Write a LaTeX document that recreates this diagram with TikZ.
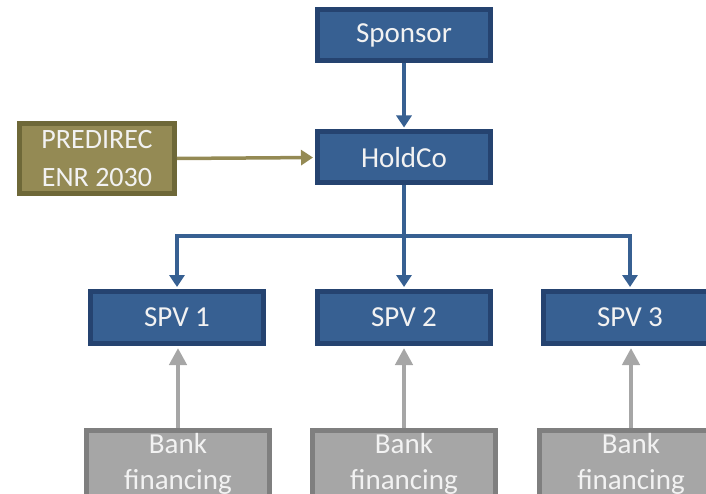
\documentclass[tikz,border=0pt]{standalone}
\usepackage{fontspec}
\setmainfont{Carlito}
\usetikzlibrary{arrows.meta}
\definecolor{bfill}{HTML}{376092}
\definecolor{bdraw}{HTML}{254370}
\definecolor{ofill}{HTML}{948A54}
\definecolor{odraw}{HTML}{6E6838}
\definecolor{gfill}{HTML}{A6A6A6}
\definecolor{gdraw}{HTML}{7F7F7F}
\definecolor{txt}{HTML}{F2F2F2}
\tikzset{
  box/.style={rectangle, line width=5pt, inner sep=0pt, text=txt, align=center,
    font=\fontsize{29}{37}\selectfont},
  bluebox/.style={box, fill=bfill, draw=bdraw, minimum width=173pt, minimum height=51pt},
  olivebox/.style={box, fill=ofill, draw=odraw, minimum width=155pt, minimum height=70pt,
    font=\fontsize{28}{38}\selectfont},
  graybox/.style={box, fill=gfill, draw=gdraw, minimum width=183pt, inner ysep=3pt,
    text depth=30pt, font=\fontsize{29}{36}\selectfont},
  bluearrow/.style={draw=bfill, line width=3.5pt, -{Triangle[width=15pt,length=12pt]}, shorten >=2pt},
  olivearrow/.style={draw=ofill, line width=3.5pt, -{Triangle[width=15pt,length=12pt]}, shorten >=2pt},
  grayarrow/.style={draw=gfill, line width=4.5pt, -{Triangle[width=17pt,length=17pt]}, shorten >=2pt},
}
\begin{document}
\begin{tikzpicture}[x=1pt,y=-1pt]
\useasboundingbox (0,0) rectangle (706,494);
\clip (0,0) rectangle (706,494);
\node[bluebox] (sponsor) at (404,35) {Sponsor};
\node[bluebox] (holdco) at (404,157.5) {HoldCo};
\node[olivebox] (predirec) at (97,158.5) {PREDIREC\\ENR 2030};
\node[bluebox, minimum height=52pt] (spv1) at (177,317.5) {SPV 1};
\node[bluebox, minimum height=52pt] (spv2) at (404,317.5) {SPV 2};
\node[bluebox, minimum height=52pt] (spv3) at (630,317.5) {SPV 3};
\node[graybox, anchor=north] (bank1) at (178,427.5) {Bank\\financing};
\node[graybox, anchor=north] (bank2) at (404,427.5) {Bank\\financing};
\node[graybox, anchor=north] (bank3) at (631,427.5) {Bank\\financing};
\coordinate (bus) at (404,236);
\draw[bluearrow] (sponsor.south) -- (holdco.north);
\draw[olivearrow] (predirec.east) -- (holdco.west);
\draw[bluearrow] (holdco.south) -- (bus) -| (spv1.north);
\draw[bluearrow] (bus) -| (spv3.north);
\draw[bluearrow] (bus) -- (spv2.north);
\draw[grayarrow] (bank1.north) -- (bank1.north |- spv1.south);
\draw[grayarrow] (bank2.north) -- (bank2.north |- spv2.south);
\draw[grayarrow] (bank3.north) -- (bank3.north |- spv3.south);
\end{tikzpicture}
\end{document}
